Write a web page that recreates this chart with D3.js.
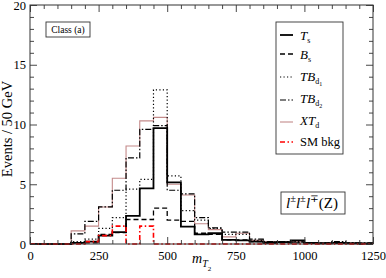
<!DOCTYPE html>
<html>
<head>
<meta charset="utf-8">
<script src="https://cdn.jsdelivr.net/npm/d3@7"></script>
<style>
	body { margin: 0; background: #fff; }
	text { font-family: "Liberation Serif", "DejaVu Serif", serif; fill: #000; }
</style>
</head>
<body>
<svg id="chart" width="386" height="278"></svg>
<script>
"use strict";

// bin edges of 50 GeV, 0 .. 1250
var binEdges = d3.range(0, 1251, 50);

var tsValues   = [0, 0, 0, 0.1, 0.2, 0.7, 1.0, 2.35, 4.65, 9.7, 5.15, 1.45, 0.8, 0.9, 0.35, 0.3, 0.2, 0.1, 0.15, 0.3, 0.1, 0.05, 0.1, 0.05, 0.05];
var bsValues   = [0, 0, 0, 0.05, 0.1, 0.8, 0.95, 2.05, 2.05, 3.0, 2.0, 1.9, 0.9, 0.8, 0.35, 0.35, 0.2, 0.1, 0.1, 0.1, 0.05, 0.05, 0.05, 0.05, 0];
var tbd1Values = [0, 0, 0, 0.2, 0.4, 1.3, 2.2, 4.6, 5.4, 12.9, 5.7, 2.8, 2.0, 1.3, 0.8, 0.8, 0.3, 0.2, 0.2, 0.2, 0.1, 0.1, 0.15, 0.1, 0.05];
var tbd2Values = [0, 0, 0, 0.85, 1.9, 3.1, 4.5, 7.2, 9.6, 9.9, 4.5, 4.2, 2.2, 1.35, 1.0, 1.0, 0.4, 0.2, 0.2, 0.15, 0.1, 0.1, 0.2, 0.1, 0.1];
var xtdValues  = [0, 0, 0, 1.1, 1.5, 3.1, 5.5, 8.2, 10.3, 10.6, 5.0, 4.1, 1.7, 1.2, 0.6, 0.9, 0.3, 0.2, 0.2, 0.2, 0.1, 0.1, 0.1, 0.1, 0.05];
var smValues   = [0, 0, 0, 0, 0.2, 0.7, 1.5, 0, 1.5, 0, 0, 0, 0, 0, 0, 0, 0, 0, 0, 0, 0, 0, 0, 0, 0];

var xTicks = [0, 250, 500, 750, 1000, 1250];
var yTicks = [0, 5, 10, 15, 20];

var series = [
	{ name: "XTd",  values: xtdValues,  color: "#c48a8a", width: 1.1, dash: null },
	{ name: "TBd1", values: tbd1Values, color: "#000",    width: 1.2, dash: "1.2,2.3" },
	{ name: "TBd2", values: tbd2Values, color: "#000",    width: 1.2, dash: "6,2,1.5,2" },
	{ name: "Bs",   values: bsValues,   color: "#000",    width: 1.3, dash: "5,3" },
	{ name: "Ts",   values: tsValues,   color: "#000",    width: 1.8, dash: null },
	{ name: "SM",   values: smValues,   color: "#ff0000", width: 1.6, dash: "5,2.5,1.5,2.5" }
];

var svg = d3.select("#chart"),
	plot = { left: 30, right: 373, top: 5, bottom: 244 };

var xScale = d3.scaleLinear().domain([0, 1250]).range([plot.left, plot.right]);
var yScale = d3.scaleLinear().domain([0, 20]).range([plot.bottom, plot.top]);

// histograms as steps
var line = d3.line()
	.x(function(d) { return xScale(d[0]); })
	.y(function(d) { return yScale(d[1]); })
	.curve(d3.curveStepAfter);

function stepPoints(values) {
	var pts = values.map(function(v, i) { return [binEdges[i], v]; });
	pts.push([binEdges[values.length], values[values.length - 1]]);
	return pts;
}

svg.append("g")
	.selectAll("path")
	.data(series)
	.enter().append("path")
		.attr("d", function(d) { return line(stepPoints(d.values)); })
		.attr("fill", "none")
		.attr("stroke", function(d) { return d.color; })
		.attr("stroke-width", function(d) { return d.width; })
		.attr("stroke-dasharray", function(d) { return d.dash; });

// axes, ticks inward on all four sides
var xMinor = d3.range(0, 1251, 50).filter(function(v) { return v % 250 !== 0; });
var yMinor = d3.range(0, 21, 1).filter(function(v) { return v % 5 !== 0; });

function axisBox(axisFn, scale, ticks, len, labels) {
	return axisFn(scale).tickValues(ticks).tickSizeInner(-len).tickSizeOuter(0)
		.tickFormat(labels ? d3.format("d") : "");
}

var axes = [
	{ fn: d3.axisBottom, scale: xScale, tr: "translate(0," + plot.bottom + ")", major: xTicks, minor: xMinor, labels: true, side: "b" },
	{ fn: d3.axisTop, scale: xScale, tr: "translate(0," + plot.top + ")", major: xTicks, minor: xMinor, labels: false, side: "t" },
	{ fn: d3.axisLeft, scale: yScale, tr: "translate(" + plot.left + ",0)", major: yTicks, minor: yMinor, labels: true, side: "l" },
	{ fn: d3.axisRight, scale: yScale, tr: "translate(" + plot.right + ",0)", major: yTicks, minor: yMinor, labels: false, side: "r" }
];

axes.forEach(function(a) {
	var g = svg.append("g").attr("transform", a.tr);
	g.call(axisBox(a.fn, a.scale, a.major, 7, a.labels));
	g.append("g").call(axisBox(a.fn, a.scale, a.minor, 4, false));
	g.selectAll(".domain").remove();
	g.selectAll("line").attr("stroke", "#333").attr("stroke-width", 0.9);
	g.selectAll("text")
		.style("font-family", "'Liberation Serif', serif")
		.style("font-size", "12.5px")
		.attr("fill", "#000");
	if (a.side === "b") g.selectAll("text").attr("y", 7);
	if (a.side === "l") g.selectAll("text").attr("x", -4)
		.attr("dy", function(d) { return d === 20 ? "0.62em" : "0.32em"; })
		.attr("transform", function(d) { return d === 20 ? "translate(0,-3.5)" : null; });
});

svg.append("rect")
	.attr("x", plot.left).attr("y", plot.top)
	.attr("width", plot.right - plot.left).attr("height", plot.bottom - plot.top)
	.attr("fill", "none").attr("stroke", "#333").attr("stroke-width", 1);

// axis titles
svg.append("text")
	.attr("transform", "translate(12,129) rotate(-90)")
	.attr("text-anchor", "middle")
	.style("font-size", "14.5px")
	.text("Events / 50 GeV");

var xt = svg.append("text").attr("x", 192).attr("y", 263).style("font-size", "14px");
xt.append("tspan").style("font-style", "italic").text("m");
xt.append("tspan").attr("dy", 4).style("font-size", "10px").style("font-style", "italic").text("T");
xt.append("tspan").attr("dy", 4).style("font-size", "7px").text("2");

// class box
svg.append("rect").attr("x", 46).attr("y", 22).attr("width", 44).attr("height", 15)
	.attr("fill", "#fff").attr("stroke", "#333").attr("stroke-width", 0.9);
svg.append("text").attr("x", 68).attr("y", 33).attr("text-anchor", "middle")
	.style("font-size", "9.5px").text("Class (a)");

// process box
svg.append("rect").attr("x", 281).attr("y", 192).attr("width", 64).attr("height", 22)
	.attr("fill", "#fff").attr("stroke", "#333").attr("stroke-width", 0.9);
var pt = svg.append("text").attr("x", 286).attr("y", 208).style("font-size", "15px");
var charges = ["\u00b1", "\u00b1", "\u2213"];
charges.forEach(function(s, i) {
	pt.append("tspan").style("font-style", "italic").attr("dy", i === 0 ? 0 : 6).text("l");
	pt.append("tspan").attr("dy", -6).style("font-size", "10.5px").text(s);
});
pt.append("tspan").attr("dy", 6).text("(Z)");

// legend
var legendRows = [
	{ key: "Ts",   y: 35,  base: 40,  main: "T",  sub: "s",  subsub: null },
	{ key: "Bs",   y: 54,  base: 59,  main: "B",  sub: "s",  subsub: null },
	{ key: "TBd1", y: 77,  base: 81,  main: "TB", sub: "d",  subsub: "1" },
	{ key: "TBd2", y: 100, base: 103, main: "TB", sub: "d",  subsub: "2" },
	{ key: "XTd",  y: 122, base: 125, main: "XT", sub: "d",  subsub: null },
	{ key: "SM",   y: 142, base: 146, main: null, sub: null, subsub: null }
];

svg.append("rect").attr("x", 276).attr("y", 22).attr("width", 67).attr("height", 132)
	.attr("fill", "#fff").attr("stroke", "#333").attr("stroke-width", 0.9);

legendRows.forEach(function(r) {
	var s = series.filter(function(d) { return d.name === r.key; })[0];
	svg.append("line")
		.attr("x1", 280).attr("x2", 293).attr("y1", r.y).attr("y2", r.y)
		.attr("stroke", s.color).attr("stroke-width", s.width)
		.attr("stroke-dasharray", s.dash);
	var t = svg.append("text").attr("x", 300).attr("y", r.base).style("font-size", "13px");
	if (r.main === null) {
		t.style("font-size", "12.5px").text("SM bkg");
		return;
	}
	t.append("tspan").style("font-style", "italic").text(r.main);
	t.append("tspan").attr("dy", 3).style("font-size", "8px").text(r.sub);
	if (r.subsub) {
		t.append("tspan").attr("dy", 2).style("font-size", "6px").text(r.subsub);
	}
});
</script>
</body>
</html>
